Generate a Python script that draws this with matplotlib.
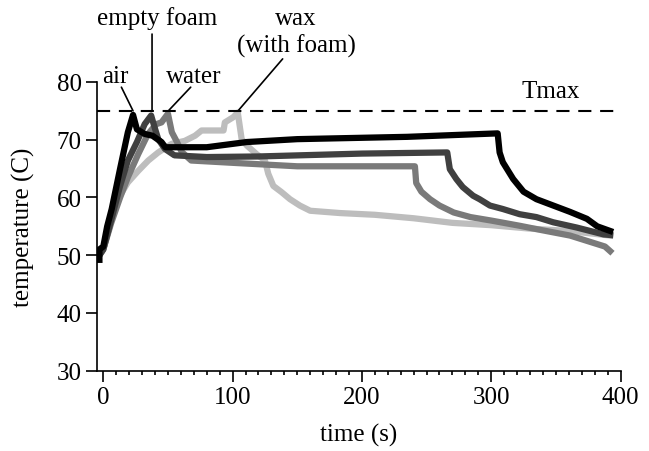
import matplotlib
matplotlib.use("Agg")
import matplotlib.pyplot as plt

plt.rcParams["font.family"] = ["Liberation Serif", "DejaVu Serif"]
plt.rcParams["font.size"] = 18

# air (black)
air_t = [-3, -3, 0, 3, 6.5, 13, 19, 23, 26, 32, 38, 45, 48, 80, 111, 150, 235, 305,
         306.5, 309, 317, 325, 335, 348, 361, 374, 382, 392]
air_T = [49.2, 51, 51.5, 55, 58, 65, 71.3, 74.3, 71.8, 71, 70.7, 69.6, 68.7, 68.7, 69.6,
         70.1, 70.5, 71.1, 67.8, 66.1, 63.2, 61, 59.7, 58.6, 57.5, 56.3, 55, 54.2]

# empty foam (dark grey)
foam_t = [-3, 0, 6, 13, 19, 26, 32, 37, 40, 42.5, 47.7, 55, 80, 120, 200, 266,
          268, 273, 278, 286, 291, 299, 309, 322, 335, 348, 366, 387, 392]
foam_T = [50, 51, 56, 62, 66.4, 69.6, 72.7, 74.2, 71.9, 70.1, 68.4, 67.3, 67.0, 67.1,
          67.6, 67.8, 64.9, 63.2, 61.8, 60.3, 59.7, 58.6, 58, 57.1, 56.6, 55.7, 54.8,
          53.6, 53.5]

# water (mid grey)
water_t = [-3, 0, 6, 13, 19, 27, 34.6, 41, 45, 50, 53, 57, 60.6, 68, 100, 150, 200,
           241, 242, 246, 252.7, 260, 271, 284, 300, 322, 340, 361, 388, 392]
water_T = [50, 51, 55.5, 60, 63.5, 67.5, 71, 72.7, 73, 74.5, 71.3, 69.6, 67.9, 66.4,
           66, 65.4, 65.4, 65.4, 62.5, 61, 59.7, 58.6, 57.4, 56.6, 56, 55.1, 54.3,
           53.4, 51.5, 50.7]

# wax with foam (light grey)
wax_t = [-3, 0, 6.5, 12, 19, 27, 34.8, 42.5, 53, 63, 71, 76, 93, 94, 100.5, 104,
         105.5, 107, 111, 118.6, 125, 127.6, 131.5, 138, 144.4, 152, 160, 183, 210,
         240, 270, 300, 330, 360, 376, 392]
wax_T = [50, 51, 56.3, 60, 62.6, 64.6, 66.4, 67.8, 69.3, 69.8, 70.7, 71.6, 71.6, 73,
         73.9, 74.7, 72.4, 70.1, 69, 67.5, 66.4, 64.1, 62, 60.9, 59.7, 58.6, 57.7,
         57.3, 57, 56.4, 55.6, 55.2, 54.6, 54.2, 53.8, 53.4]

t_max = 75

# label text, text anchor (x, baseline y), leader line start, leader line end
labels = ["air", "empty foam", "water", "wax", "(with foam)"]
label_x = [9.4, 41.3, 69.8, 149, 149]
label_y = [80.0, 90.0, 80.0, 90.0, 85.2]
lead_from = [(14, 79.1), (37.7, 88.3), (67.6, 79.1), (138.7, 84)]
lead_to = [(23, 75), (37.7, 75), (50.3, 75), (104.2, 75)]

fig = plt.figure(figsize=(6.49, 4.52), dpi=100)
ax = fig.add_axes([0.1492, 0.1777, 0.8069, 0.6387])

ax.plot(wax_t, wax_T, color="#bdbdbd", lw=4.5)
ax.plot(water_t, water_T, color="#7a7a7a", lw=4.5)
ax.plot(foam_t, foam_T, color="#404040", lw=4.5)
ax.plot(air_t, air_T, color="black", lw=4.5)

ax.axhline(t_max, color="black", lw=1.5, linestyle=(0, (6.3, 4.2)))
ax.text(346, 77.35, "Tmax", ha="center", va="baseline")

for txt, x, y in zip(labels, label_x, label_y):
    ax.text(x, y, txt, ha="center", va="baseline", clip_on=False)
for a, b in zip(lead_from, lead_to):
    ax.annotate("", xy=b, xytext=a, annotation_clip=False,
                arrowprops=dict(arrowstyle="-", lw=1.2, shrinkA=0, shrinkB=0))

ax.set_xlim(-5, 400)
ax.set_ylim(30, 80)
ax.set_xticks([0, 100, 200, 300, 400])
ax.set_xticks(range(10, 400, 10), minor=True)
ax.set_yticks([30, 40, 50, 60, 70, 80])
ax.spines["top"].set_visible(False)
ax.spines["right"].set_visible(False)
ax.spines["left"].set_linewidth(1.2)
ax.spines["bottom"].set_linewidth(1.2)
ax.tick_params(which="major", direction="out", length=8, width=1.2, pad=3)
ax.tick_params(which="minor", direction="out", length=3, width=1.2)

ax.set_xlabel("time (s)")
ax.set_ylabel("temperature (C)")
ax.xaxis.set_label_coords(0.5, -0.181)
ax.yaxis.set_label_coords(-0.118, 0.5)

fig.savefig("out.png", dpi=100)
